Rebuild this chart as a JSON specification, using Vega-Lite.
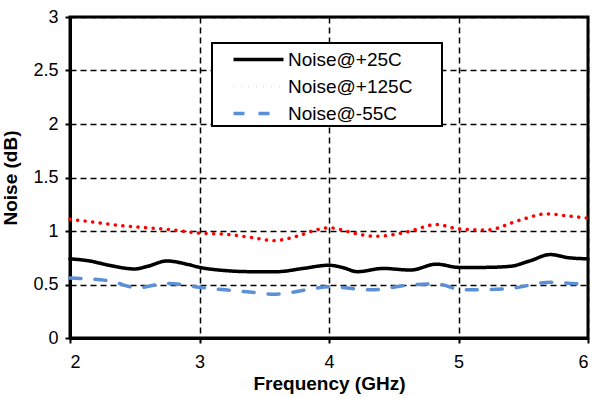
{
  "$schema": "https://vega.github.io/schema/vega-lite/v6.json",
  "width": 518,
  "height": 321,
  "autosize": {"type": "none"},
  "padding": {"left": 70, "top": 17, "right": 19, "bottom": 60},
  "background": "white",
  "config": {
    "font": "Liberation Sans",
    "view": {"stroke": "black", "strokeWidth": 3},
    "legend": {"strokeWidth": 2},
    "axis": {
      "labelFont": "Liberation Sans",
      "titleFont": "Liberation Sans",
      "labelFontSize": 18,
      "titleFontSize": 19,
      "titleFontWeight": "bold",
      "labelColor": "black",
      "titleColor": "black",
      "domainColor": "black",
      "domainWidth": 3,
      "tickColor": "black",
      "tickWidth": 2,
      "tickSize": 5,
      "gridColor": "black",
      "gridDash": [6, 4],
      "gridWidth": 1.5,
      "gridOpacity": 1
    }
  },
  "data": {
    "values": [
      {"f": 2.0, "noise": 0.74, "series": "Noise@+25C"},
      {"f": 2.15, "noise": 0.72, "series": "Noise@+25C"},
      {"f": 2.3, "noise": 0.68, "series": "Noise@+25C"},
      {"f": 2.5, "noise": 0.645, "series": "Noise@+25C"},
      {"f": 2.6, "noise": 0.67, "series": "Noise@+25C"},
      {"f": 2.75, "noise": 0.72, "series": "Noise@+25C"},
      {"f": 2.9, "noise": 0.69, "series": "Noise@+25C"},
      {"f": 3.0, "noise": 0.66, "series": "Noise@+25C"},
      {"f": 3.2, "noise": 0.63, "series": "Noise@+25C"},
      {"f": 3.4, "noise": 0.62, "series": "Noise@+25C"},
      {"f": 3.6, "noise": 0.62, "series": "Noise@+25C"},
      {"f": 3.8, "noise": 0.65, "series": "Noise@+25C"},
      {"f": 4.0, "noise": 0.68, "series": "Noise@+25C"},
      {"f": 4.1, "noise": 0.66, "series": "Noise@+25C"},
      {"f": 4.22, "noise": 0.62, "series": "Noise@+25C"},
      {"f": 4.42, "noise": 0.65, "series": "Noise@+25C"},
      {"f": 4.63, "noise": 0.635, "series": "Noise@+25C"},
      {"f": 4.83, "noise": 0.69, "series": "Noise@+25C"},
      {"f": 5.0, "noise": 0.66, "series": "Noise@+25C"},
      {"f": 5.2, "noise": 0.66, "series": "Noise@+25C"},
      {"f": 5.4, "noise": 0.67, "series": "Noise@+25C"},
      {"f": 5.55, "noise": 0.72, "series": "Noise@+25C"},
      {"f": 5.71, "noise": 0.78, "series": "Noise@+25C"},
      {"f": 5.85, "noise": 0.75, "series": "Noise@+25C"},
      {"f": 6.0, "noise": 0.74, "series": "Noise@+25C"},

      {"f": 2.0, "noise": 1.11, "series": "Noise@+125C"},
      {"f": 2.2, "noise": 1.08, "series": "Noise@+125C"},
      {"f": 2.4, "noise": 1.05, "series": "Noise@+125C"},
      {"f": 2.6, "noise": 1.03, "series": "Noise@+125C"},
      {"f": 2.8, "noise": 1.01, "series": "Noise@+125C"},
      {"f": 3.0, "noise": 0.98, "series": "Noise@+125C"},
      {"f": 3.2, "noise": 0.97, "series": "Noise@+125C"},
      {"f": 3.4, "noise": 0.94, "series": "Noise@+125C"},
      {"f": 3.57, "noise": 0.91, "series": "Noise@+125C"},
      {"f": 3.75, "noise": 0.95, "series": "Noise@+125C"},
      {"f": 3.9, "noise": 1.01, "series": "Noise@+125C"},
      {"f": 4.0, "noise": 1.03, "series": "Noise@+125C"},
      {"f": 4.1, "noise": 1.01, "series": "Noise@+125C"},
      {"f": 4.19, "noise": 0.98, "series": "Noise@+125C"},
      {"f": 4.37, "noise": 0.95, "series": "Noise@+125C"},
      {"f": 4.6, "noise": 0.99, "series": "Noise@+125C"},
      {"f": 4.83, "noise": 1.06, "series": "Noise@+125C"},
      {"f": 5.0, "noise": 1.02, "series": "Noise@+125C"},
      {"f": 5.22, "noise": 1.01, "series": "Noise@+125C"},
      {"f": 5.47, "noise": 1.1, "series": "Noise@+125C"},
      {"f": 5.68, "noise": 1.16, "series": "Noise@+125C"},
      {"f": 5.85, "noise": 1.14, "series": "Noise@+125C"},
      {"f": 6.0, "noise": 1.12, "series": "Noise@+125C"},

      {"f": 2.0, "noise": 0.56, "series": "Noise@-55C"},
      {"f": 2.3, "noise": 0.535, "series": "Noise@-55C"},
      {"f": 2.52, "noise": 0.47, "series": "Noise@-55C"},
      {"f": 2.75, "noise": 0.51, "series": "Noise@-55C"},
      {"f": 3.0, "noise": 0.475, "series": "Noise@-55C"},
      {"f": 3.2, "noise": 0.45, "series": "Noise@-55C"},
      {"f": 3.39, "noise": 0.43, "series": "Noise@-55C"},
      {"f": 3.57, "noise": 0.41, "series": "Noise@-55C"},
      {"f": 3.83, "noise": 0.45, "series": "Noise@-55C"},
      {"f": 4.0, "noise": 0.48, "series": "Noise@-55C"},
      {"f": 4.32, "noise": 0.45, "series": "Noise@-55C"},
      {"f": 4.63, "noise": 0.495, "series": "Noise@-55C"},
      {"f": 4.83, "noise": 0.505, "series": "Noise@-55C"},
      {"f": 5.03, "noise": 0.45, "series": "Noise@-55C"},
      {"f": 5.37, "noise": 0.46, "series": "Noise@-55C"},
      {"f": 5.71, "noise": 0.52, "series": "Noise@-55C"},
      {"f": 6.0, "noise": 0.495, "series": "Noise@-55C"}
    ]
  },
  "mark": {"type": "line", "interpolate": "monotone", "strokeCap": "round", "strokeWidth": 3.5},
  "encoding": {
    "x": {
      "field": "f", "type": "quantitative", "title": "Frequency (GHz)",
      "scale": {"domain": [2, 6], "nice": false},
      "axis": {"values": [2, 3, 4, 5, 6], "format": "d", "titlePadding": 3, "labelPadding": 10}
    },
    "y": {
      "field": "noise", "type": "quantitative", "title": "Noise (dB)",
      "scale": {"domain": [0, 3], "nice": false},
      "axis": {"values": [0, 0.5, 1, 1.5, 2, 2.5, 3], "format": "~g", "titlePadding": 12, "labelPadding": 7}
    },
    "color": {
      "field": "series", "type": "nominal",
      "scale": {"domain": ["Noise@+25C", "Noise@+125C", "Noise@-55C"], "range": ["black", "#ff0000", "#5b8fd6"]},
      "legend": {
        "title": null,
        "orient": "none",
        "legendX": 142,
        "legendY": 26,
        "direction": "vertical",
        "strokeColor": "black",
        "fillColor": "white",
        "padding": 2,
        "labelFontSize": 19,
        "labelFont": "Liberation Sans",
        "labelColor": "black",
        "symbolType": "M0.4,0H4.4M16.3,0",
        "symbolSize": 625,
        "symbolStrokeWidth": 3.5,
        "rowPadding": 2,
        "labelOffset": 45,
        "offset": 0
      }
    },
    "strokeDash": {
      "field": "series", "type": "nominal",
      "scale": {"domain": ["Noise@+25C", "Noise@+125C", "Noise@-55C"], "range": [[1, 0], [0.1, 7.5], [11, 14]]},
      "legend": null
    }
  }
}
